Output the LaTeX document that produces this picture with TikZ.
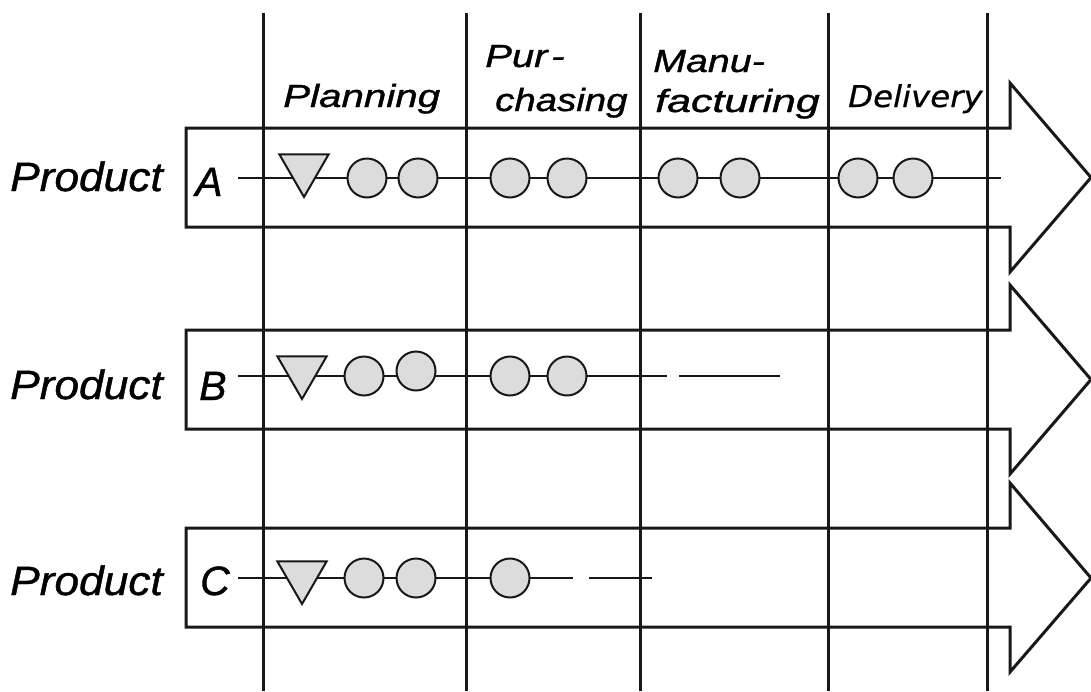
\documentclass[tikz,border=0pt]{standalone}
\usepackage{fontspec}
\setmainfont{Liberation Sans}[ItalicFeatures={FakeBold=1}]
\newfontfamily\phasefont{DejaVu Sans}[ItalicFeatures={FakeBold=0.6}]
\usetikzlibrary{shapes.geometric}
\definecolor{opgray}{HTML}{DCDCDC}
\definecolor{ink}{HTML}{1A1717}

\begin{document}
\begin{tikzpicture}[x=1pt,y=-1pt,
  divider/.style={draw=ink, line width=3pt},
  flow/.style={draw=ink, line width=3pt, line join=miter},
  track/.style={draw=ink, line width=2pt},
  op/.style={circle, draw=ink, line width=2pt, fill=opgray, minimum size=39pt, inner sep=0pt},
  plan/.style={regular polygon, regular polygon sides=3, shape border rotate=180,
    draw=ink, line width=2pt, fill=opgray, minimum size=57pt, inner sep=0pt},
  head/.style={font=\fontsize{32}{34}\selectfont\itshape, anchor=base west, inner sep=0pt},
  prod/.style={font=\fontsize{41}{44}\selectfont\itshape, anchor=base west, inner sep=0pt, xscale=1.08},
  letter/.style={font=\fontsize{41}{44}\selectfont\itshape, anchor=base west, inner sep=0pt}
]
\useasboundingbox (0,0) rectangle (1091,691);

% product flow arrows: top edge / bottom edge / centre of the head
\foreach \t/\b/\c in {128/227/177.5, 330/429/379.5, 528/627/578} {
  \draw[flow] (186,\t) -- (1010,\t) -- (1010,\t-45) -- (1091,\c)
    -- (1010,\b+45) -- (1010,\b) -- (186,\b) -- cycle;
}

% phase dividers
\foreach \x/\n in {263/d1, 466/d2, 640/d3, 828/d4, 987/d5} {
  \coordinate (\n-top) at (\x,13);
  \coordinate (\n-bot) at (\x,691);
  \draw[divider] (\n-top) -- (\n-bot);
}

% phase headings
\node[head, xscale=1.26] (hplan) at (283,107) {Planning};
\node[head, xscale=1.25] (hpur1) at (485,67) {Pur\kern3pt-};
\node[head, xscale=1.2] (hpur2) at (495,111) {chasing};
\node[head, xscale=1.23] (hman1) at (653,72) {Manu-};
\node[head, xscale=1.34] (hman2) at (655,112) {facturing};
\node[anchor=base west, inner sep=0pt, xscale=1.08,
  font=\fontsize{30}{32}\selectfont\phasefont\itshape] (hdel) at (848,107) {Delivery};

% ---- product A ----
\node[prod] (pA) at (10,191) {Product};
\node[letter] (lA) at (195,196) {A};
\coordinate (sA) at (238,178);
\coordinate (eA) at (1001,178);
\draw[track] (sA) -- (eA);
\node[plan] (tA) at (304,168.5) {};
\foreach \x/\n in {367/1, 418/2, 510/3, 567/4, 678/5, 740/6, 858/7, 913/8}
  \node[op] (a\n) at (\x,178) {};

% ---- product B ----
\node[prod] (pB) at (10,399) {Product};
\node[letter] (lB) at (199,400) {B};
\coordinate (sB) at (238,376);
\coordinate (mB) at (667,376);
\coordinate (nB) at (679,376);
\coordinate (eB) at (780,376);
\draw[track] (sB) -- (mB);
\draw[track] (nB) -- (eB);
\node[plan] (tB) at (302,370.5) {};
\node[op] (b1) at (364,376) {};
\node[op] (b2) at (416,371) {};
\node[op] (b3) at (510,376) {};
\node[op] (b4) at (567,376) {};

% ---- product C ----
\node[prod] (pC) at (10,595) {Product};
\node[letter] (lC) at (200,595) {C};
\coordinate (sC) at (238,578);
\coordinate (mC) at (573,578);
\coordinate (nC) at (589,578);
\coordinate (eC) at (652,578);
\draw[track] (sC) -- (mC);
\draw[track] (nC) -- (eC);
\node[plan] (tC) at (302,575.5) {};
\node[op] (c1) at (364,578) {};
\node[op] (c2) at (416,578) {};
\node[op] (c3) at (510,578) {};
\end{tikzpicture}
\end{document}
